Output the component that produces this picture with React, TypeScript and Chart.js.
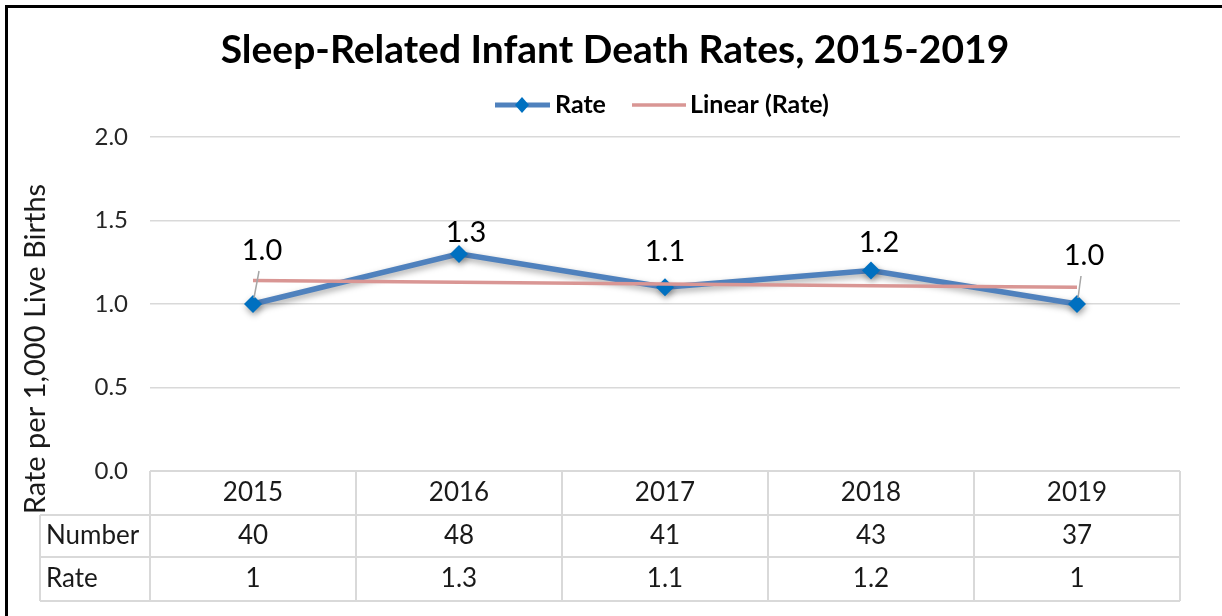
import React, { useEffect, useRef } from "react";
import { Chart, registerables } from "chart.js";

Chart.register(...registerables);

// ---- data ----
const years = ["2015", "2016", "2017", "2018", "2019"];
const rates = [1.0, 1.3, 1.1, 1.2, 1.0];
const numbers = [40, 48, 41, 43, 37];
const trendRates = [1.14, 1.13, 1.12, 1.11, 1.1];
const yTickValues = [0, 0.5, 1.0, 1.5, 2.0];
const chartTitle = "Sleep-Related Infant Death Rates, 2015-2019";
const yAxisTitle = "Rate per 1,000 Live Births";
const rowLabels = ["Number", "Rate"];
const seriesNames = ["Rate", "Linear (Rate)"];

// ---- styles ----
const FONT = "Lato, 'Open Sans', sans-serif";
const BLUE_LINE = "#4f81bd";
const BLUE_MARK = "#0070c0";
const PINK = "#d99694";
const GRID = "#d9d9d9";
const TEXT = "#1a1a1a";
// label offsets relative to the point (px) and whether a leader line is drawn
const labelOffsets: [number, number][] = [
  [9, -53],
  [7, -21],
  [0, -36],
  [8, -28],
  [7, -48],
];
const leaderLines = [true, false, false, false, true];

const decorPlugin = {
  id: "decor",
  beforeDraw(chart: any) {
    const ctx = chart.ctx;
    ctx.save();
    ctx.fillStyle = "#ffffff";
    ctx.fillRect(0, 0, chart.width, chart.height);
    ctx.restore();
  },
  beforeDatasetDraw(chart: any, args: any) {
    if (args.meta.label === seriesNames[0]) {
      const ctx = chart.ctx;
      ctx.save();
      ctx.shadowColor = "rgba(0,0,0,0.35)";
      ctx.shadowBlur = 6;
      ctx.shadowOffsetY = 3;
      ctx.shadowOffsetX = 1;
    }
  },
  afterDatasetDraw(chart: any, args: any) {
    if (args.meta.label === seriesNames[0]) {
      chart.ctx.restore();
    }
  },
  afterDraw(chart: any) {
    const ctx = chart.ctx;
    const ca = chart.chartArea;
    const xs = chart.scales.x;
    ctx.save();

    // Title
    ctx.fillStyle = "#000";
    ctx.font = `bold 39px ${FONT}`;
    ctx.textAlign = "center";
    ctx.textBaseline = "middle";
    ctx.fillText(chartTitle, 615, 50);

    // Legend
    const ly = 105;
    ctx.lineCap = "butt";
    ctx.strokeStyle = BLUE_LINE;
    ctx.lineWidth = 5;
    ctx.beginPath();
    ctx.moveTo(495, ly);
    ctx.lineTo(550, ly);
    ctx.stroke();
    ctx.fillStyle = BLUE_MARK;
    ctx.beginPath();
    ctx.moveTo(522, ly - 8);
    ctx.lineTo(529, ly);
    ctx.lineTo(522, ly + 8);
    ctx.lineTo(515, ly);
    ctx.closePath();
    ctx.fill();
    ctx.strokeStyle = PINK;
    ctx.lineWidth = 3.5;
    ctx.beginPath();
    ctx.moveTo(632, ly);
    ctx.lineTo(686, ly);
    ctx.stroke();
    ctx.fillStyle = "#000";
    ctx.font = `bold 25px ${FONT}`;
    ctx.textAlign = "left";
    ctx.fillText(seriesNames[0], 555, ly);
    ctx.fillText(seriesNames[1], 690, ly);

    // Y axis title
    ctx.save();
    ctx.translate(36, 349);
    ctx.rotate(-Math.PI / 2);
    ctx.font = `29px ${FONT}`;
    ctx.textAlign = "center";
    ctx.fillStyle = TEXT;
    ctx.fillText(yAxisTitle, 0, 0);
    ctx.restore();

    // Data table
    const n = years.length;
    const colW = (ca.right - ca.left) / n;
    const labelLeft = 40;
    const rowTops = [ca.bottom, ca.bottom + 44, ca.bottom + 86, ca.bottom + 130];
    ctx.strokeStyle = GRID;
    ctx.lineWidth = 2;
    ctx.beginPath();
    ctx.moveTo(ca.left, rowTops[0]);
    ctx.lineTo(ca.right, rowTops[0]);
    for (let r = 1; r < rowTops.length; r++) {
      ctx.moveTo(labelLeft, rowTops[r]);
      ctx.lineTo(ca.right, rowTops[r]);
    }
    for (let i = 0; i <= n; i++) {
      const x = ca.left + i * colW;
      ctx.moveTo(x, rowTops[0]);
      ctx.lineTo(x, rowTops[3]);
    }
    ctx.moveTo(labelLeft, rowTops[1]);
    ctx.lineTo(labelLeft, rowTops[3]);
    ctx.stroke();

    ctx.fillStyle = TEXT;
    ctx.font = `26px ${FONT}`;
    ctx.textBaseline = "middle";
    ctx.textAlign = "center";
    for (let i = 0; i < n; i++) {
      const x = xs.getPixelForValue(i);
      ctx.fillText(years[i], x, (rowTops[0] + rowTops[1]) / 2);
      ctx.fillText(String(numbers[i]), x, (rowTops[1] + rowTops[2]) / 2);
      ctx.fillText(String(rates[i]), x, (rowTops[2] + rowTops[3]) / 2);
    }
    ctx.textAlign = "left";
    ctx.fillText(rowLabels[0], 46, (rowTops[1] + rowTops[2]) / 2);
    ctx.fillText(rowLabels[1], 46, (rowTops[2] + rowTops[3]) / 2);

    // Data labels
    const meta = chart.getDatasetMeta(1);
    ctx.font = `29px ${FONT}`;
    ctx.textAlign = "center";
    ctx.fillStyle = "#000";
    meta.data.forEach((pt: any, i: number) => {
      const [dx, dy] = labelOffsets[i];
      const lx = pt.x + dx;
      const lyy = pt.y + dy;
      ctx.fillText(rates[i].toFixed(1), lx, lyy);
      if (leaderLines[i]) {
        ctx.strokeStyle = "#a6a6a6";
        ctx.lineWidth = 1.5;
        ctx.beginPath();
        ctx.moveTo(lx - 3, lyy + 20);
        ctx.lineTo(pt.x + 1, pt.y - 6);
        ctx.stroke();
      }
    });

    // Frame
    ctx.strokeStyle = "#000";
    ctx.lineWidth = 3;
    ctx.beginPath();
    ctx.moveTo(6.5, chart.height);
    ctx.lineTo(6.5, 6.5);
    ctx.lineTo(chart.width, 6.5);
    ctx.stroke();

    ctx.restore();
  },
};

export default function App() {
  const canvasRef = useRef<HTMLCanvasElement | null>(null);

  useEffect(() => {
    if (!canvasRef.current) return;
    const chart = new Chart(canvasRef.current, {
      type: "line",
      data: {
        labels: years,
        datasets: [
          {
            label: seriesNames[1],
            data: trendRates,
            borderColor: PINK,
            borderWidth: 3.5,
            pointRadius: 0,
            tension: 0,
            order: 0,
          },
          {
            label: seriesNames[0],
            data: rates,
            borderColor: BLUE_LINE,
            borderWidth: 5.5,
            pointStyle: "rectRot",
            pointRadius: 9,
            pointBackgroundColor: BLUE_MARK,
            pointBorderColor: BLUE_MARK,
            pointBorderWidth: 0,
            tension: 0,
            order: 1,
          },
        ],
      },
      options: {
        animation: false,
        responsive: false,
        maintainAspectRatio: false,
        layout: { padding: { top: 137, right: 42, bottom: 145, left: 0 } },
        plugins: {
          legend: { display: false },
          title: { display: false },
          tooltip: { enabled: false },
        },
        scales: {
          x: { display: false, offset: true },
          y: {
            min: 0,
            max: 2,
            afterFit: (s: any) => {
              s.width = 150;
            },
            afterBuildTicks: (s: any) => {
              s.ticks = yTickValues.map((v) => ({ value: v }));
            },
            ticks: {
              padding: 22,
              callback: (v: any) => Number(v).toFixed(1),
              font: { family: FONT, size: 24 },
              color: "#262626",
            },
            grid: { color: GRID, lineWidth: 1.5, drawTicks: false },
            border: { display: false },
          },
        },
      },
      plugins: [decorPlugin],
    } as any);
    return () => chart.destroy();
  }, []);

  return (
    <div style={{ position: "absolute", left: 0, top: 0, width: 1222, height: 616 }}>
      <canvas ref={canvasRef} width={1222} height={616} style={{ display: "block" }} />
    </div>
  );
}
